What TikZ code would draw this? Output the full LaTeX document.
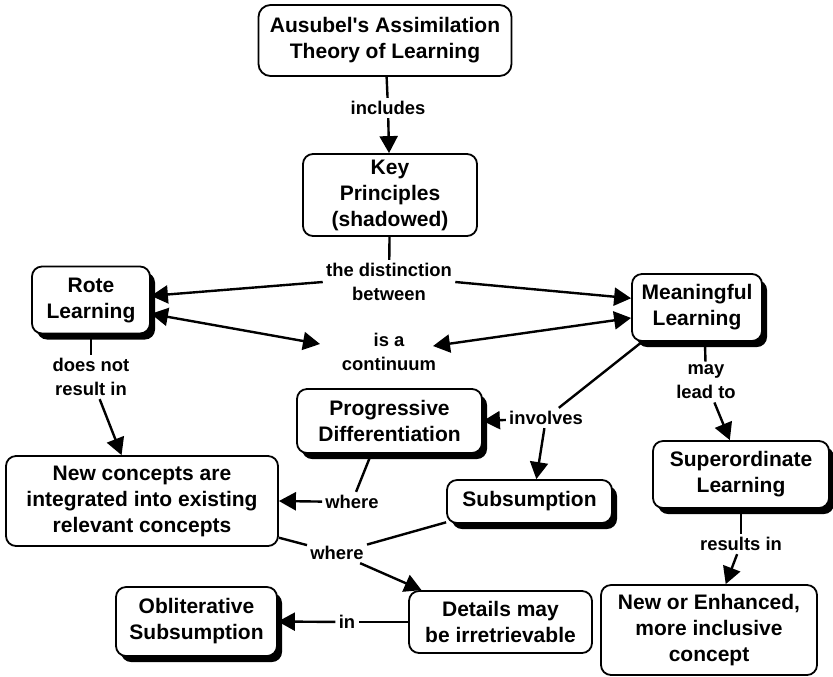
\documentclass[tikz,border=0pt]{standalone}
\usepackage{fontspec}
\setmainfont{Liberation Sans}[Ligatures=TeXOff]
\usetikzlibrary{arrows.meta, shadows, calc, positioning}

\begin{document}
\begin{tikzpicture}[x=0.5pt, y=-0.5pt,
    concept/.style={draw, line width=0.9pt, rounded corners=5pt, fill=white,
        align=center, inner sep=0pt, font=\fontsize{10.5}{13}\selectfont\bfseries},
    shadowed/.style={concept, drop shadow={shadow xshift=2.5pt, shadow yshift=-3pt,
        opacity=1, fill=black}},
    linkword/.style={align=center, inner sep=1.5pt,
        font=\fontsize{9.2}{12}\selectfont\bfseries},
    bare/.style={line width=1.2pt},
    link/.style={bare, -{Triangle[length=8.5pt, width=9pt]}},
    twoway/.style={bare, {Triangle[length=8.5pt, width=9pt]}-{Triangle[length=8.5pt, width=9pt]}}]

            \useasboundingbox (0,0) rectangle (833,676);

            % concepts
            \node[concept, rounded corners=6pt, minimum width=126.5pt, minimum height=35.5pt] (ausubel) at (385,40.5) {Ausubel's Assimilation\\Theory of Learning};
            \node[concept, minimum width=87pt, minimum height=41pt] (key) at (390,195) {Key\\Principles\\(shadowed)};
            \node[shadowed, minimum width=59pt, minimum height=33.5pt] (rote) at (91,300) {Rote\\Learning};
            \node[shadowed, minimum width=65pt, minimum height=33.5pt] (meaningful) at (697,307.5) {Meaningful\\Learning};
            \node[shadowed, minimum width=92.5pt, minimum height=32pt] (prog) at (389.5,421) {Progressive\\Differentiation};
            \node[concept, minimum width=136pt, minimum height=45pt] (newc) at (142,501) {New concepts are\\integrated into existing\\relevant concepts};
            \node[shadowed, minimum width=82.5pt, minimum height=21.5pt] (subs) at (529.5,501.5) {Subsumption};
            \node[shadowed, minimum width=88pt, minimum height=33.5pt] (super) at (741,474.5) {Superordinate\\Learning};
            \node[shadowed, minimum width=80.5pt, minimum height=34.5pt] (oblit) at (196.5,621.5) {Obliterative\\Subsumption};
            \node[concept, minimum width=91.5pt, minimum height=31pt] (details) at (500.5,622) {Details may\\be irretrievable};
            \node[concept, minimum width=108pt, minimum height=45pt] (newenh) at (709,630) {New or Enhanced,\\more inclusive\\concept};

            % linking words
            \node[linkword] (incl) at (388,108) {includes};
            \node[linkword] (dist) at (389,282) {the distinction\\between};
            \node[linkword] (cont) at (389,352) {is a\\continuum};
            \node[linkword] (dnr) at (91,377) {does not\\result in};
            \node[linkword] (mlt) at (706,382) {may\\lead to};
            \node[linkword] (inv) at (546,418) {involves};
            \node[linkword] (where1) at (352,502) {where};
            \node[linkword] (where2) at (337,553) {where};
            \node[linkword] (res) at (741,544) {results in};
            \node[linkword] (in) at (347,622) {in};

            % connectors
            \draw[bare] (ausubel) -- (incl);
            \draw[link] (incl) -- (key);

            \draw[bare] (key) -- (dist);
            \draw[link] (dist.west) -- (rote.4);
            \draw[link] (dist.east) -- (meaningful.172);

            \draw[twoway] (rote.-13) -- ($(cont.center)+(-69,-8)$);
            \draw[twoway] ($(cont.center)+(44,-6)$) -- (meaningful.-171);

            \draw[bare] (rote) -- (dnr);
            \draw[link] (dnr) -- (newc.114);

            \draw[bare] (meaningful.-77) -- (mlt);
            \draw[link] (mlt) -- (super.108);

            \draw[bare] (meaningful.-148) -- (inv);
            \draw[link] (inv) -- (prog.east);
            \draw[link] (inv) -- (subs.73);

            \draw[bare] (prog.-119) -- (where1);
            \draw[link] (where1) -- (newc.east);

            \draw[bare] (newc.-15) -- (where2);
            \draw[bare] (subs.-166) -- (where2);
            \draw[link] (where2) -- (details.158);

            \draw[bare] (details.west) -- (in);
            \draw[link] (in) -- (oblit.east);

            \draw[bare] (super) -- (res);
            \draw[link] (res) -- (newenh.70);
        \end{tikzpicture}
\end{document}
